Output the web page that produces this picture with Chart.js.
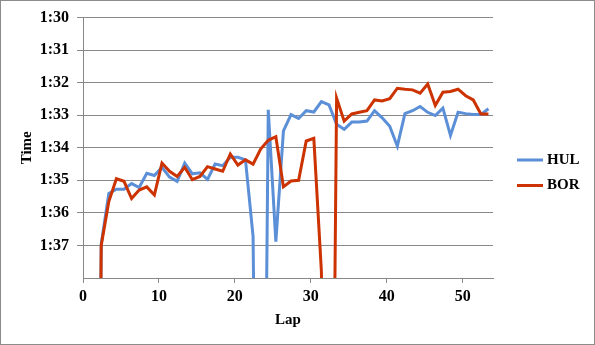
<!DOCTYPE html>
<html>
<head>
<meta charset="utf-8">
<script src="https://cdn.jsdelivr.net/npm/chart.js@4/dist/chart.umd.min.js"></script>
<style>
    html, body { margin: 0; padding: 0; background: #fff; }
    #chartBox { width: 595px; height: 345px; position: relative; }
</style>
</head>
<body>
<div id="chartBox"><canvas id="lapChart"></canvas></div>
<script>
// lap positions as they sit on the x axis
const lapX = [1.4, 2.4, 3.4, 4.4, 5.4, 6.4, 7.4, 8.4, 9.4, 10.4,
    11.4, 12.4, 13.4, 14.4, 15.4, 16.4, 17.4, 18.4, 19.4, 20.4,
    21.4, 22.4, 23.4, 24.4, 25.4, 26.4, 27.4, 28.4, 29.4, 30.4,
    31.4, 32.4, 33.4, 34.4, 35.4, 36.4, 37.4, 38.4, 39.4, 40.4,
    41.4, 42.4, 43.4, 44.4, 45.4, 46.4, 47.4, 48.4, 49.4, 50.4,
    51.4, 52.4, 53.4];

// lap times in seconds
const hulTimes = [125, 96.95, 95.4, 95.27, 95.27, 95.1, 95.22, 94.78, 94.85, 94.6,
    94.9, 95.03, 94.47, 94.8, 94.77, 94.97, 94.5, 94.55, 94.29, 94.29,
    94.37, 96.72, 118, 92.83, 96.88, 93.48, 92.98, 93.1, 92.86, 92.9,
    92.58, 92.68, 93.28, 93.43, 93.21, 93.21, 93.18, 92.86, 93.08, 93.34,
    93.95, 92.95, 92.86, 92.73, 92.91, 93.01, 92.78, 93.62, 92.91, 92.95,
    92.98, 92.98, 92.8];

const borTimes = [125, 97.0, 95.65, 94.95, 95.03, 95.56, 95.3, 95.2, 95.45, 94.47,
    94.72, 94.88, 94.6, 94.98, 94.88, 94.58, 94.65, 94.72, 94.19, 94.53,
    94.37, 94.5, 94.04, 93.77, 93.66, 95.2, 95.02, 95.0, 93.79, 93.71,
    97.8, 118, 92.47, 93.18, 92.96, 92.91, 92.86, 92.53, 92.56, 92.49,
    92.17, 92.2, 92.22, 92.32, 92.04, 92.7, 92.29, 92.27, 92.2, 92.4,
    92.53, 92.96, 92.96];

const driverNames = ['HUL', 'BOR'];
const timeTicks = [90, 91, 92, 93, 94, 95, 96, 97];
const timeLabels = ['1:30', '1:31', '1:32', '1:33', '1:34', '1:35', '1:36', '1:37'];
const lapTicks = [0, 10, 20, 30, 40, 50];

document.addEventListener("DOMContentLoaded", function () {
    const ctx = document.getElementById('lapChart').getContext('2d');

    const serif = 'Liberation Serif, Times New Roman, serif';
    const gridGray = '#888888';
    const colors = ['#5b8fd7', '#cc3300'];

    function points(times) {
        return times.map((t, i) => ({ x: lapX[i], y: t }));
    }

    // white background and outer frame
    const frame = {
        id: 'frame',
        beforeDraw(chart) {
            const c = chart.ctx;
            c.save();
            c.fillStyle = '#fff';
            c.fillRect(0, 0, chart.width, chart.height);
            c.strokeStyle = '#8c8c8c';
            c.lineWidth = 1;
            c.strokeRect(0.5, 0.5, chart.width - 1, chart.height - 1);
            c.restore();
        }
    };

    // legend drawn at the right like the original
    const sideLegend = {
        id: 'sideLegend',
        afterDraw(chart) {
            const c = chart.ctx;
            c.save();
            c.font = 'bold 15px ' + serif;
            c.textBaseline = 'middle';
            chart.data.datasets.forEach((ds, i) => {
                const y = 160 + i * 25.5;
                c.strokeStyle = ds.borderColor;
                c.lineWidth = 3;
                c.beginPath();
                c.moveTo(517, y);
                c.lineTo(543, y);
                c.stroke();
                c.fillStyle = '#000';
                c.fillText(ds.label, 547, y);
            });
            c.restore();
        }
    };

    new Chart(ctx, {
        type: 'line',
        data: {
            datasets: [
                {
                    label: driverNames[0],
                    data: points(hulTimes),
                    borderColor: colors[0],
                    backgroundColor: colors[0],
                    borderWidth: 3,
                    pointRadius: 0,
                    tension: 0,
                    clip: 0,
                    order: 2
                },
                {
                    label: driverNames[1],
                    data: points(borTimes),
                    borderColor: colors[1],
                    backgroundColor: colors[1],
                    borderWidth: 3,
                    pointRadius: 0,
                    tension: 0,
                    clip: 0,
                    order: 1
                }
            ]
        },
        options: {
            responsive: true,
            maintainAspectRatio: false,
            animation: false,
            layout: { padding: { top: 15, right: 102, bottom: 0, left: 0 } },
            plugins: {
                legend: { display: false },
                tooltip: { enabled: false }
            },
            scales: {
                x: {
                    type: 'linear',
                    min: 0,
                    max: 54,
                    afterBuildTicks: s => { s.ticks = lapTicks.map(v => ({ value: v })); },
                    afterFit: s => { s.height = 67; },
                    grid: { drawOnChartArea: false, drawTicks: true, tickLength: 5, color: gridGray },
                    border: { display: true, color: gridGray },
                    ticks: {
                        autoSkip: false,
                        maxRotation: 0,
                        padding: 4,
                        color: '#000',
                        font: { family: serif, size: 16, weight: 'bold' }
                    },
                    title: {
                        display: true,
                        text: 'Lap',
                        color: '#000',
                        padding: { top: 0, bottom: 16 },
                        font: { family: serif, size: 15, weight: 'bold' }
                    }
                },
                y: {
                    type: 'linear',
                    reverse: true,
                    min: 90,
                    max: 98,
                    afterBuildTicks: s => { s.ticks = timeTicks.map(v => ({ value: v })); },
                    afterFit: s => { s.width = 83; },
                    grid: { color: gridGray, tickLength: 6 },
                    border: { display: true, color: gridGray },
                    ticks: {
                        padding: 8,
                        color: '#000',
                        font: { family: serif, size: 16, weight: 'bold' },
                        callback: v => timeLabels[timeTicks.indexOf(v)]
                    },
                    title: {
                        display: true,
                        text: 'Time',
                        color: '#000',
                        padding: { top: 18, bottom: 0 },
                        font: { family: serif, size: 15, weight: 'bold' }
                    }
                }
            }
        },
        plugins: [frame, sideLegend]
    });
});
</script>
</body>
</html>
